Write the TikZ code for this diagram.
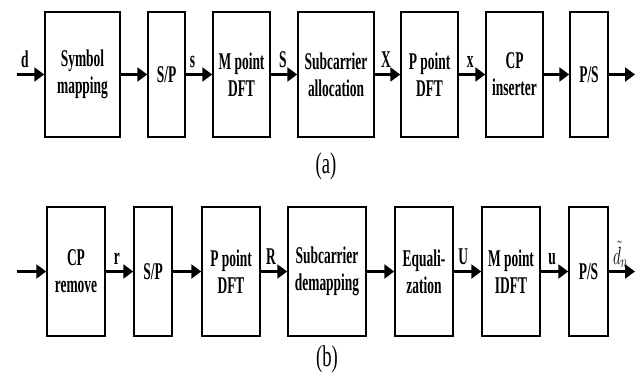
\documentclass[tikz,border=0pt]{standalone}
\usepackage{fontspec}
\setmainfont{Liberation Serif}
\newfontfamily\blockfont[FakeStretch=0.56]{Liberation Serif}
\newfontfamily\capfont[FakeStretch=0.62]{Liberation Serif}
\usetikzlibrary{arrows.meta}

\begin{document}
\begin{tikzpicture}[x=1pt,y=-1pt,
  blk/.style={draw, line width=1.5pt, align=center, inner sep=0pt,
    font=\blockfont\bfseries\fontsize{24}{27}\selectfont},
  rowa/.style={blk, minimum height=125pt},
  rowb/.style={blk, minimum height=129pt},
  sig/.style={line width=2.8pt, -{Triangle[length=10pt,width=14pt]}},
  lbl/.style={font=\blockfont\bfseries\fontsize{24}{27}\selectfont,
    inner sep=0pt, anchor=base, yshift=7.5pt},
  subcap/.style={font=\capfont\fontsize{30}{32}\selectfont, inner sep=0pt}]

\useasboundingbox (0,0) rectangle (642,380);

% ---------- (a) transmitter chain ----------
\node[rowa, minimum width=75pt] (sm)   at (82.5,74.5) {Symbol\\mapping};
\node[rowa, minimum width=37pt] (spa)  at (166.5,74.5) {S/P};
\node[rowa, minimum width=57pt] (mdft) at (241.5,74.5) {M point\\DFT};
\node[rowa, minimum width=76pt] (sa)   at (336,74.5) {Subcarrier\\allocation};
\node[rowa, minimum width=57pt] (pdft) at (429.5,74.5) {P point\\DFT};
\node[rowa, minimum width=57pt] (cpi)  at (514.5,74.5) {CP\\inserter};
\node[rowa, minimum width=38pt] (psa)  at (589,74.5) {P/S};
\coordinate (ina)  at (17,74.5);
\coordinate (outa) at (635,74.5);

\draw[sig] (ina)  -- node[lbl, pos=0.29] {d} (sm);
\draw[sig] (sm)   -- (spa);
\draw[sig] (spa)  -- node[lbl, pos=0.25] {s} (mdft);
\draw[sig] (mdft) -- node[lbl, pos=0.46] {S} (sa);
\draw[sig] (sa)   -- node[lbl, pos=0.44] {X} (pdft);
\draw[sig] (pdft) -- node[lbl, pos=0.43] {x} (cpi);
\draw[sig] (cpi)  -- (psa);
\draw[sig] (psa)  -- (outa);

\node[subcap] (capa) at (326,166) {(a)};

% ---------- (b) receiver chain ----------
\node[rowb, minimum width=58pt] (cpr)   at (76,271.5) {CP\\remove};
\node[rowb, minimum width=38pt] (spb)   at (153,271.5) {S/P};
\node[rowb, minimum width=58pt] (pdftb) at (231,271.5) {P point\\DFT};
\node[rowb, minimum width=78pt] (sd)    at (327,271.5) {Subcarrier\\demapping};
\node[rowb, minimum width=58pt] (eq)    at (424,271.5) {Equali-\\zation};
\node[rowb, minimum width=58pt] (midft) at (511,271.5) {M point\\IDFT};
\node[rowb, minimum width=39pt] (psb)   at (588.5,271.5) {P/S};
\coordinate (inb)  at (17,271.5);
\coordinate (outb) at (635,271.5);

\draw[sig] (inb)   -- (cpr);
\draw[sig] (cpr)   -- node[lbl, pos=0.4]  {r} (spb);
\draw[sig] (spb)   -- (pdftb);
\draw[sig] (pdftb) -- node[lbl, pos=0.39] {R} (sd);
\draw[sig] (sd)    -- (eq);
\draw[sig] (eq)    -- node[lbl, pos=0.34] {U} (midft);
\draw[sig] (midft) -- node[lbl, pos=0.41] {u} (psb);
\draw[sig] (psb)   -- node[lbl, pos=0.44] {\scalebox{0.62}[1]{$\tilde{d}_n$}} (outb);

\node[subcap] (capb) at (327,359) {(b)};
\end{tikzpicture}
\end{document}
